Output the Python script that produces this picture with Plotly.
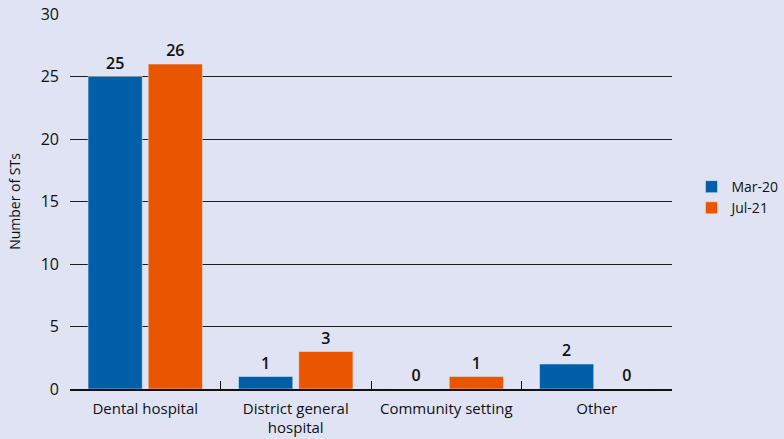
import plotly.graph_objects as go

categories = ["Dental hospital", "District general<br>hospital", "Community setting", "Other"]
mar20 = [25, 1, 0, 2]
jul21 = [26, 3, 1, 0]
y_ticks = [0, 5, 10, 15, 20, 25, 30]

BG = "#dfe3f3"
FONT = "Open Sans"
INK = "#111111"

fig = go.Figure()
fig.add_bar(name="Mar-20", x=categories, y=mar20, marker_color="#005fa8",
            text=mar20, textposition="outside", cliponaxis=False,
            textfont=dict(family="Open Sans SemiBold, Open Sans", size=16, color=INK))
fig.add_bar(name="Jul-21", x=categories, y=jul21, marker_color="#ea5500",
            text=jul21, textposition="outside", cliponaxis=False,
            textfont=dict(family="Open Sans SemiBold, Open Sans", size=16, color=INK))

fig.update_layout(
    width=784, height=439,
    margin=dict(l=70, r=112, t=14, b=50, autoexpand=False),
    paper_bgcolor=BG, plot_bgcolor=BG,
    barmode="group", bargap=0.2, bargroupgap=0.1,
    font=dict(family=FONT, size=15, color=INK),
    showlegend=True,
    legend=dict(xref="container", yref="container", x=0.882, xanchor="left",
                y=0.55, yanchor="middle",
                font=dict(size=14), bgcolor="rgba(0,0,0,0)",
                itemwidth=30, tracegroupgap=2),
)
fig.update_xaxes(
    showgrid=False, showline=True, linecolor=INK, linewidth=1.5,
    ticks="inside", tickson="boundaries", ticklen=8, tickcolor=INK,
    tickfont=dict(size=15), ticklabelstandoff=5, automargin=False,
)
fig.update_yaxes(
    range=[0, 30], tickvals=y_ticks, showgrid=True, gridcolor="#1e1e1e",
    gridwidth=1.2, zeroline=False, showline=False, ticks="",
    ticklabelstandoff=10, tickfont=dict(size=16), automargin=False,
    title=dict(text="Number of STs", font=dict(size=14), standoff=16),
)

fig.write_html("out.html")
